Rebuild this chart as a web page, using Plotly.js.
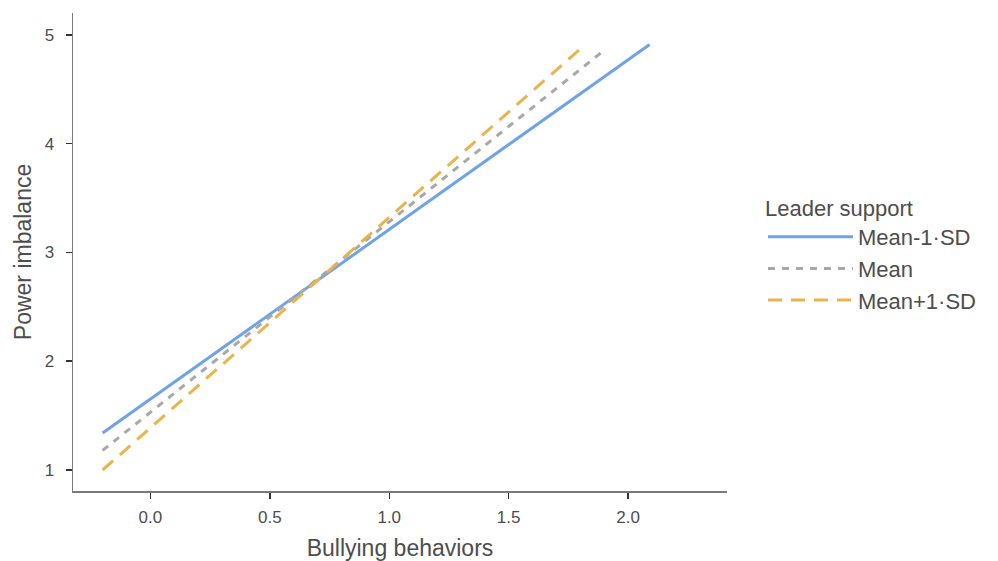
<!DOCTYPE html>
<html>
<head>
<meta charset="utf-8">
<script src="https://cdn.plot.ly/plotly-3.0.1.min.js"></script>
<style>html,body{margin:0;padding:0;background:#fff;}#chart{width:998px;height:561px;}</style>
</head>
<body>
<div id="chart"></div>
<script>
// Data
const seriesNames = ["Mean-1·SD", "Mean", "Mean+1·SD"];
const xLow = [-0.2, 2.09];
const yLow = [1.34, 4.91];
const xMean = [-0.2, 1.89];
const yMean = [1.18, 4.84];
const xHigh = [-0.2, 1.81];
const yHigh = [1.0, 4.89];
const xTicks = [0, 0.5, 1, 1.5, 2];
const xTickLabels = ["0.0", "0.5", "1.0", "1.5", "2.0"];
const yTicks = [1, 2, 3, 4, 5];
const yTickLabels = ["1", "2", "3", "4", "5"];

const traces = [
  {x: xLow, y: yLow, name: seriesNames[0], mode: "lines",
   line: {color: "#6fa3e8", width: 3}},
  {x: xMean, y: yMean, name: seriesNames[1], mode: "lines",
   line: {color: "#a8a8a8", width: 3, dash: "7px,7px"}},
  {x: xHigh, y: yHigh, name: seriesNames[2], mode: "lines",
   line: {color: "#e9b44c", width: 3, dash: "14px,9px"}}
];

const axisCommon = {
  showgrid: false, zeroline: false, showline: true,
  linecolor: "#7a7a7a", linewidth: 1.5,
  ticks: "outside", ticklen: 6, tickwidth: 1.5, tickcolor: "#333",
  tickfont: {family: "Liberation Sans, Arial, sans-serif", size: 17, color: "#4d4d4d"}
};

const layout = {
  width: 998, height: 561,
  margin: {l: 73, r: 271, t: 13, b: 70},
  paper_bgcolor: "#fff", plot_bgcolor: "#fff",
  font: {family: "Liberation Sans, Arial, sans-serif", color: "#4d4d4d"},
  xaxis: Object.assign({}, axisCommon, {
    range: [-0.324, 2.414],
    tickvals: xTicks, ticktext: xTickLabels,
    ticklabelstandoff: 4,
    title: {text: "Bullying behaviors", font: {size: 23, color: "#4d4d4d"}, standoff: 18}
  }),
  yaxis: Object.assign({}, axisCommon, {
    range: [0.807, 5.2],
    tickvals: yTicks, ticktext: yTickLabels,
    ticklabelstandoff: 8,
    title: {text: "Power imbalance", font: {size: 23, color: "#4d4d4d"}, standoff: 6}
  }),
  showlegend: true,
  legend: {
    x: 1.055, y: 0.635, xanchor: "left", yanchor: "top",
    title: {text: "Leader support", font: {size: 22, color: "#4d4d4d"}},
    font: {size: 22, color: "#4d4d4d"},
    tracegroupgap: 0, itemwidth: 85,
    bgcolor: "rgba(0,0,0,0)"
  }
};

Plotly.newPlot("chart", traces, layout, {displayModeBar: false, staticPlot: true});
</script>
</body>
</html>
